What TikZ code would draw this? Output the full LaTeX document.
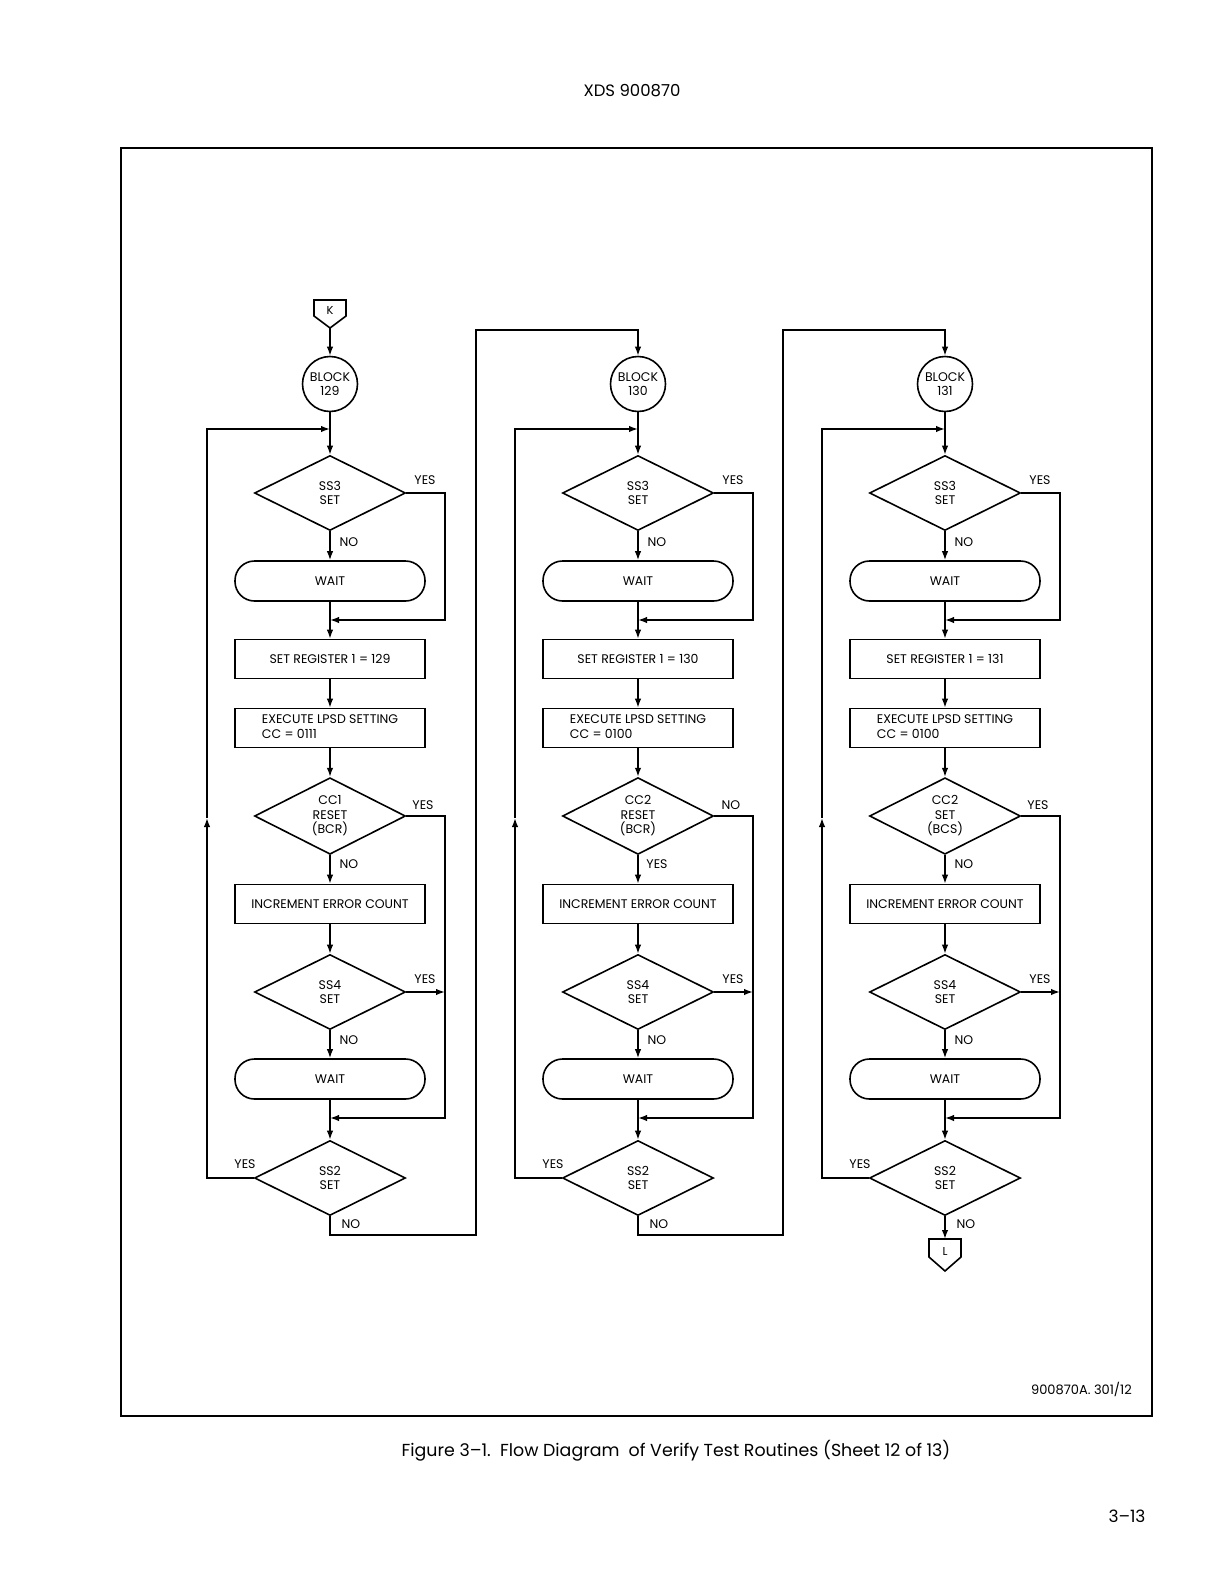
\documentclass[tikz,border=0pt]{standalone}
\usepackage{fontspec}
\setmainfont{Poppins}
\usetikzlibrary{shapes.geometric,arrows.meta}
\begin{document}
\begin{tikzpicture}[x=1pt,y=-1pt,
  every node/.style={font=\fontsize{12.5}{14.5}\selectfont},
  line/.style={line width=1.6pt},
  arr/.style={line width=1.6pt,-{Latex[length=9pt,width=6.5pt]}},
  dec/.style={draw,line width=1.6pt,diamond,minimum width=151pt,minimum height=75pt,inner sep=0pt,align=center},
  boxn/.style={draw,line width=1.6pt,rectangle,minimum width=190pt,minimum height=39pt,inner sep=0pt,align=center},
  term/.style={boxn,rounded corners=19.5pt,minimum height=40pt},
  blk/.style={draw,line width=1.6pt,circle,minimum size=55pt,inner sep=0pt,align=center},
  lbl/.style={inner sep=0pt}
]
\fill[white] (0,0) rectangle (1224,1584);
\useasboundingbox (0,0) rectangle (1224,1584);

% page furniture
\node[font=\fontsize{16.5}{18}\selectfont] (title) at (632,91) {XDS 900870};
\draw[line width=2pt] (121,148) rectangle (1152,1416);
\node[anchor=east,inner sep=0pt,font=\fontsize{13}{15}\selectfont] (code) at (1132,1389) {900870A. 301/12};
\node[font=\fontsize{17.4}{20}\selectfont] (caption) at (676,1451) {Figure 3–1.\ \ Flow Diagram\ \ of Verify Test Routines (Sheet 12 of 13)};
\node[font=\fontsize{17}{19}\selectfont] (pageno) at (1127,1516) {3–13};

% entry connector K
\draw[line] (314,300) -- (346,300) -- (346,316) -- (330,328) -- (314,316) -- cycle;
\node[font=\fontsize{11.5}{12}\selectfont] (K) at (330,310) {K};
\coordinate (Kb) at (330,328);

\foreach \c/\cx/\reg/\cc/\dtxt/\rl/\dl in {
  1/330/129/0111/{CC1\\RESET\\(BCR)}/YES/NO,
  2/638/130/0100/{CC2\\RESET\\(BCR)}/NO/YES,
  3/945/131/0100/{CC2\\SET\\(BCS)}/YES/NO}{
  \node[blk] (b-\c) at (\cx,384) {BLOCK\\\reg};
  \node[dec] (d1-\c) at (\cx,493) {SS3\\SET};
  \node[term] (w1-\c) at (\cx,581) {WAIT};
  \node[boxn] (r-\c) at (\cx,659) {SET REGISTER 1 = \reg};
  \node[boxn] (e-\c) at (\cx,728) {\begin{tabular}{@{}l@{}}EXECUTE LPSD SETTING\\CC = \cc\end{tabular}};
  \node[dec] (d2-\c) at (\cx,816) {\dtxt};
  \node[boxn] (i-\c) at (\cx,904) {INCREMENT ERROR COUNT};
  \node[dec] (d3-\c) at (\cx,992) {SS4\\SET};
  \node[term] (w2-\c) at (\cx,1079) {WAIT};
  \node[dec] (d4-\c) at (\cx,1178) {SS2\\SET};
  \coordinate (j-\c) at (\cx,429);
  \coordinate (m1-\c) at (\cx,620);
  \coordinate (m2-\c) at (\cx,1118);

  % main flow
  \draw[arr] (b-\c) -- (d1-\c);
  \draw[arr] (d1-\c) -- (w1-\c);
  \draw[arr] (w1-\c) -- (r-\c);
  \draw[arr] (r-\c) -- (e-\c);
  \draw[arr] (e-\c) -- (d2-\c);
  \draw[arr] (d2-\c) -- (i-\c);
  \draw[arr] (i-\c) -- (d3-\c);
  \draw[arr] (d3-\c) -- (w2-\c);
  \draw[arr] (w2-\c) -- (d4-\c);

  % side branches
  \draw[arr] (d1-\c.east) -- (\cx+115,493) -- (\cx+115,620) -- (m1-\c);
  \draw[arr] (d2-\c.east) -- (\cx+115,816) -- (\cx+115,1118) -- (m2-\c);
  \draw[arr] (d3-\c.east) -- (\cx+115,992);

  % loop back
  \draw[arr] (d4-\c.west) -- (\cx-123,1178) -- (\cx-123,818);
  \draw[arr] (\cx-123,818) -- (\cx-123,429) -- (j-\c);

  % labels
  \node[lbl] (y1-\c) at (\cx+95,480) {YES};
  \node[lbl] (n1-\c) at (\cx+19,542) {NO};
  \node[lbl] (x2-\c) at (\cx+93,805) {\rl};
  \node[lbl] (z2-\c) at (\cx+19,864) {\dl};
  \node[lbl] (y3-\c) at (\cx+95,979) {YES};
  \node[lbl] (n3-\c) at (\cx+19,1040) {NO};
  \node[lbl] (y4-\c) at (\cx-85,1164) {YES};
  \node[lbl] (n4-\c) at (\cx+21,1224) {NO};
}

\draw[arr] (Kb) -- (b-1);
\draw[arr] (d4-1.south) -- (330,1235) -- (476,1235) -- (476,330) -- (638,330) -- (b-2.north);
\draw[arr] (d4-2.south) -- (638,1235) -- (783,1235) -- (783,330) -- (945,330) -- (b-3.north);

% exit connector L
\draw[line] (929,1239) -- (961,1239) -- (961,1257) -- (945,1271) -- (929,1257) -- cycle;
\node[font=\fontsize{11.5}{12}\selectfont] (L) at (945,1251) {L};
\coordinate (Lt) at (945,1239);
\draw[arr] (d4-3.south) -- (Lt);
\end{tikzpicture}
\end{document}
